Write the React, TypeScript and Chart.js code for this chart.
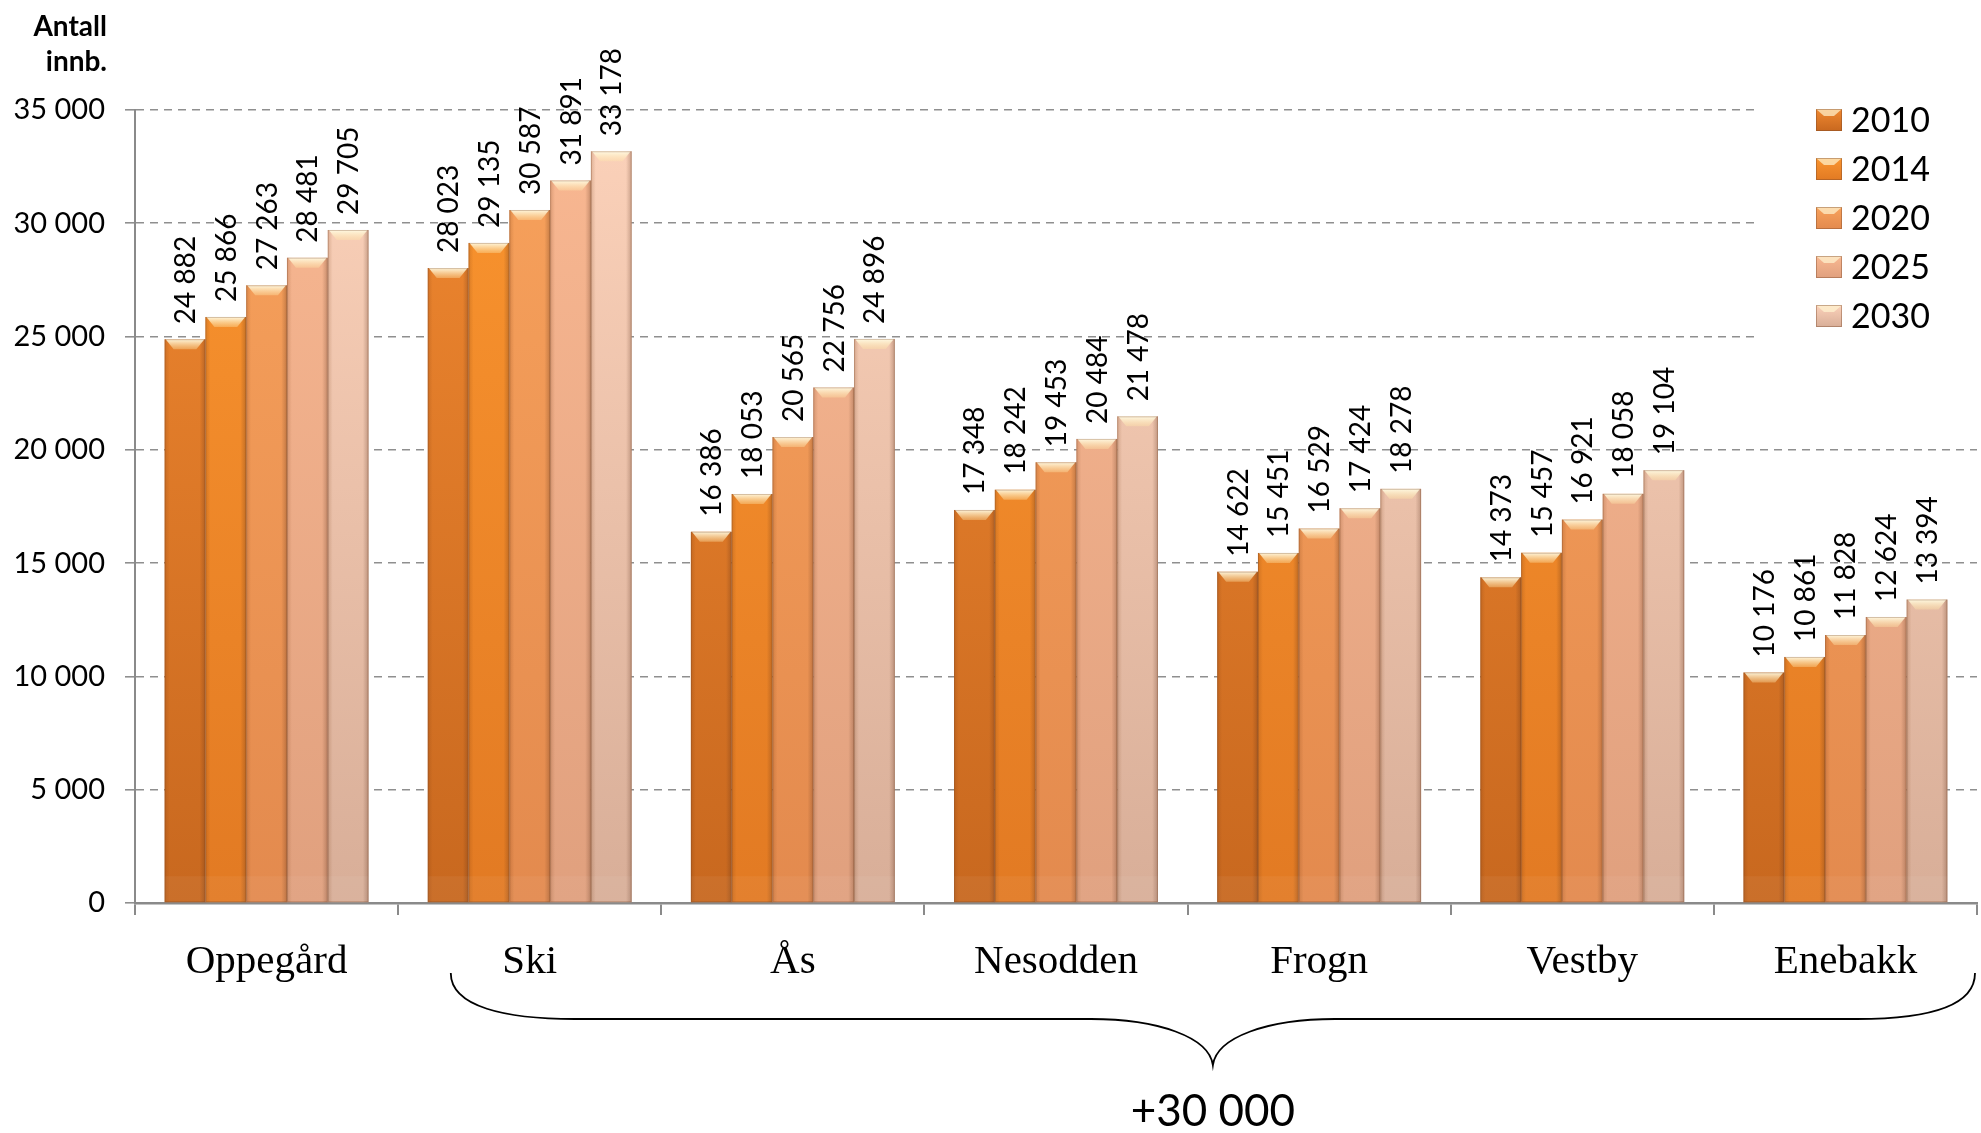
import React, { useEffect, useRef } from "react";
import { Chart, registerables } from "chart.js";

Chart.register(...registerables);

const categories = ["Oppegård", "Ski", "Ås", "Nesodden", "Frogn", "Vestby", "Enebakk"];
const years = ["2010", "2014", "2020", "2025", "2030"];
const values2010 = [24882, 28023, 16386, 17348, 14622, 14373, 10176];
const values2014 = [25866, 29135, 18053, 18242, 15451, 15457, 10861];
const values2020 = [27263, 30587, 20565, 19453, 16529, 16921, 11828];
const values2025 = [28481, 31891, 22756, 20484, 17424, 18058, 12624];
const values2030 = [29705, 33178, 24896, 21478, 18278, 19104, 13394];
const yTicks = [0, 5000, 10000, 15000, 20000, 25000, 30000, 35000];
const axisTitle = ["Antall", "innb."];
const braceLabel = "+30 000";

const topColors = ["#F08830", "#FA952F", "#F8A25C", "#F9B892", "#FCD2BA"];
const bottomColors = ["#C8681F", "#E27A23", "#E38A4E", "#E0A07E", "#D8AE98"];

const fmt = (n: number) => String(n).replace(/\B(?=(\d{3})+(?!\d))/g, " ");

const SANS = "Lato, 'Open Sans', sans-serif";
const SERIF = "'Liberation Serif', 'DejaVu Serif', serif";

const legendBox = {
  id: "legendBox",
  beforeDatasetsDraw(chart: any) {
    const ctx = chart.ctx;
    const ca = chart.chartArea;
    ctx.save();
    ctx.fillStyle = "#fff";
    ctx.fillRect(ca.right - 220, ca.top - 14, 224, 250);
    ctx.restore();
  },
};

const barDecor = {
  id: "barDecor",
  afterDatasetsDraw(chart: any) {
    const ctx = chart.ctx;
    chart.data.datasets.forEach((_ds: any, di: number) => {
      const meta = chart.getDatasetMeta(di);
      meta.data.forEach((el: any) => {
        const x0 = el.x - el.width / 2;
        const x1 = el.x + el.width / 2;
        const top = el.y;
        const bottom = el.base;
        const w = x1 - x0;
        ctx.save();
        const g = ctx.createLinearGradient(x0, 0, x1, 0);
        g.addColorStop(0, "rgba(110,50,10,0.2)");
        g.addColorStop(0.12, "rgba(110,50,10,0)");
        g.addColorStop(0.86, "rgba(80,40,20,0)");
        g.addColorStop(1, "rgba(80,40,20,0.28)");
        ctx.fillStyle = g;
        ctx.fillRect(x0, top, w, bottom - top);
        ctx.fillStyle = "rgba(255,255,255,0.05)";
        ctx.fillRect(x0, bottom - 26, w, 26);
        const bh = 10;
        const gb = ctx.createLinearGradient(0, top, 0, top + bh);
        gb.addColorStop(0, "rgba(255,252,230,0.95)");
        gb.addColorStop(1, "rgba(255,230,170,0.35)");
        ctx.beginPath();
        ctx.moveTo(x0 + 1, top);
        ctx.lineTo(x1 - 1, top);
        ctx.lineTo(x1 - 9, top + bh);
        ctx.lineTo(x0 + 9, top + bh);
        ctx.closePath();
        ctx.fillStyle = gb;
        ctx.fill();
        ctx.strokeStyle = "rgba(120,70,40,0.3)";
        ctx.lineWidth = 1;
        ctx.strokeRect(x0 + 0.5, top + 0.5, w - 1, bottom - top - 1);
        ctx.restore();
      });
    });
    ctx.save();
    ctx.font = `28px ${SANS}`;
    ctx.fillStyle = "#000";
    ctx.textAlign = "left";
    ctx.textBaseline = "middle";
    chart.data.datasets.forEach((ds: any, di: number) => {
      const meta = chart.getDatasetMeta(di);
      meta.data.forEach((el: any, i: number) => {
        ctx.save();
        ctx.translate(el.x + 1, el.y - 15);
        ctx.rotate(-Math.PI / 2);
        ctx.fillText(fmt(ds.data[i]), 0, 0);
        ctx.restore();
      });
    });
    ctx.restore();
  },
};

const annotations = {
  id: "annotations",
  afterDraw(chart: any) {
    const ctx = chart.ctx;
    const ca = chart.chartArea;
    const xs = chart.scales.x;
    ctx.save();
    ctx.font = `bold 28px ${SANS}`;
    ctx.fillStyle = "#000";
    ctx.textAlign = "right";
    ctx.textBaseline = "alphabetic";
    ctx.fillText(axisTitle[0], 107, 36);
    ctx.fillText(axisTitle[1], 107, 71);

    const lx = ca.right - 161;
    const ly0 = ca.top + 10;
    chart.data.datasets.forEach((ds: any, i: number) => {
      const cy = ly0 + i * 49;
      const sx = lx, sy = cy - 11, sw = 26, sh = 22;
      const g = ctx.createLinearGradient(0, sy, 0, sy + sh);
      g.addColorStop(0, topColors[i]);
      g.addColorStop(1, bottomColors[i]);
      ctx.fillStyle = g;
      ctx.fillRect(sx, sy, sw, sh);
      ctx.beginPath();
      ctx.moveTo(sx, sy);
      ctx.lineTo(sx + sw, sy);
      ctx.lineTo(sx + sw - 8, sy + 7);
      ctx.lineTo(sx + 8, sy + 7);
      ctx.closePath();
      ctx.fillStyle = "rgba(255,245,210,0.7)";
      ctx.fill();
      ctx.strokeStyle = "rgba(120,70,40,0.4)";
      ctx.lineWidth = 1;
      ctx.strokeRect(sx + 0.5, sy + 0.5, sw - 1, sh - 1);
      ctx.font = `34px ${SANS}`;
      ctx.fillStyle = "#000";
      ctx.textAlign = "left";
      ctx.textBaseline = "middle";
      ctx.fillText(ds.label, sx + 35, cy + 1);
    });

    const catW = (xs.right - xs.left) / categories.length;
    const L = xs.getPixelForValue(1) - 0.3 * catW;
    const R = xs.right - 2;
    const M = (L + R) / 2;
    const yT = ca.bottom + 70;
    const yH = ca.bottom + 116;
    const yP = ca.bottom + 162;
    ctx.beginPath();
    ctx.moveTo(L, yT);
    ctx.bezierCurveTo(L, yH - 12, L + 55, yH, L + 124, yH);
    ctx.lineTo(M - 122, yH);
    ctx.bezierCurveTo(M - 55, yH, M - 4, yH + 18, M, yP);
    ctx.bezierCurveTo(M + 4, yH + 18, M + 55, yH, M + 122, yH);
    ctx.lineTo(R - 118, yH);
    ctx.bezierCurveTo(R - 50, yH, R, yH - 12, R, yT);
    ctx.strokeStyle = "#000";
    ctx.lineWidth = 1.8;
    ctx.stroke();

    ctx.font = `44px ${SANS}`;
    ctx.fillStyle = "#000";
    ctx.textAlign = "center";
    ctx.textBaseline = "middle";
    ctx.fillText(braceLabel, M, ca.bottom + 209);
    ctx.restore();
  },
};

export default function App() {
  const ref = useRef<HTMLCanvasElement | null>(null);
  useEffect(() => {
    if (!ref.current) return;
    const series = [values2010, values2014, values2020, values2025, values2030];
    const chart = new Chart(ref.current, {
      type: "bar",
      data: {
        labels: categories,
        datasets: series.map((vals, i) => ({
          label: years[i],
          data: vals,
          backgroundColor: (c: any) => {
            const ca = c.chart.chartArea;
            if (!ca) return topColors[i];
            const g = c.chart.ctx.createLinearGradient(0, ca.top, 0, ca.bottom);
            g.addColorStop(0, topColors[i]);
            g.addColorStop(1, bottomColors[i]);
            return g;
          },
          borderWidth: 0,
          categoryPercentage: 0.775,
          barPercentage: 1,
        })),
      },
      options: {
        responsive: false,
        animation: false,
        devicePixelRatio: 1,
        events: [],
        layout: { padding: { top: 110, right: 4, left: 0, bottom: 0 } },
        plugins: {
          legend: { display: false },
          title: { display: false },
          tooltip: { enabled: false },
        },
        scales: {
          x: {
            afterFit: (s: any) => {
              s.height = 230;
            },
            grid: {
              offset: true,
              drawOnChartArea: false,
              drawTicks: true,
              tickLength: 12,
              color: "#8a8a8a",
              lineWidth: 2,
            },
            border: { display: true, color: "#8a8a8a", width: 2.5 },
            ticks: {
              font: { family: SERIF, size: 41 },
              color: "#000",
              padding: 23,
              maxRotation: 0,
            },
          },
          y: {
            min: 0,
            max: 35000,
            afterFit: (s: any) => {
              s.width = 135;
            },
            afterBuildTicks: (s: any) => {
              s.ticks = yTicks.map((v) => ({ value: v }));
            },
            grid: {
              color: "#8f8f8f",
              lineWidth: 1.6,
              tickLength: 10,
              drawTicks: true,
            },
            border: { display: true, color: "#8a8a8a", width: 2, dash: [8, 6] },
            ticks: {
              font: { family: SANS, size: 29 },
              color: "#000",
              padding: 20,
              callback: (v: any) => fmt(Number(v)),
            },
          },
        },
      },
      plugins: [legendBox, barDecor, annotations],
    });
    return () => chart.destroy();
  }, []);
  return (
    <div style={{ position: "fixed", left: 0, top: 0, width: 1981, height: 1133, background: "#fff" }}>
      <canvas ref={ref} width={1981} height={1133} style={{ display: "block" }} />
    </div>
  );
}
